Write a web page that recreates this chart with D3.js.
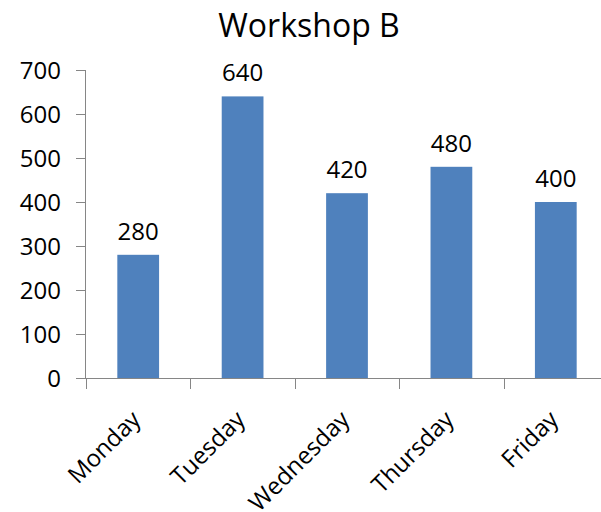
<!DOCTYPE html>
<html><head><meta charset="utf-8">
<script src="https://cdn.jsdelivr.net/npm/d3@7/dist/d3.min.js"></script>
<style>body{margin:0;background:#fff;} svg{display:block;} text{font-family:"Open Sans",sans-serif;fill:#000;}</style>
</head><body><svg id="c" width="601" height="512"></svg>
<script>
const title = "Workshop B";
const categories = ["Monday","Tuesday","Wednesday","Thursday","Friday"];
const values = [280, 640, 420, 480, 400];
const yTicks = [0,100,200,300,400,500,600,700];

const svg = d3.select("#c");
const mLeft = 86, mRight = 608, mTop = 70, mBottom = 378;
const x = d3.scaleBand().domain(categories).range([mLeft, mRight]).paddingInner(0.6).paddingOuter(0.3);
const y = d3.scaleLinear().domain([0,700]).range([mBottom, mTop]);
const axisColor = "#868686";

svg.append("text").attr("x", 309).attr("y", 37).attr("text-anchor","middle")
  .style("font-size","32px").text(title);

// y axis
const ya = svg.append("g").attr("transform",`translate(${mLeft},0)`)
  .call(d3.axisLeft(y).tickValues(yTicks).tickSize(10).tickPadding(15).tickFormat(d3.format("d")));
ya.select(".domain").attr("stroke",axisColor).attr("d",`M-0.5,${mTop}V${mBottom}`);
ya.selectAll(".tick line").attr("stroke",axisColor);
ya.selectAll(".tick text").style("font-size","24px").attr("dy","0.36em").attr("fill","#000");

// bars
svg.selectAll("rect.bar").data(values).join("rect").attr("class","bar")
  .attr("x",(d,i)=>x(categories[i])).attr("width",x.bandwidth())
  .attr("y",d=>y(d)).attr("height",d=>y(0)-y(d)).attr("fill","#4F81BD");

// data labels
svg.selectAll("text.lbl").data(values).join("text").attr("class","lbl")
  .attr("x",(d,i)=>x(categories[i])+x.bandwidth()/2).attr("y",d=>y(d)-15)
  .attr("text-anchor","middle").style("font-size","24px").text(d=>d);

// x axis
const xg = svg.append("g");
xg.append("line").attr("x1",mLeft).attr("x2",mRight).attr("y1",mBottom+0.5).attr("y2",mBottom+0.5).attr("stroke",axisColor);
const bounds = d3.range(categories.length+1).map(i=>mLeft + i*(mRight-mLeft)/categories.length);
xg.selectAll("line.t").data(bounds).join("line").attr("class","t")
  .attr("x1",d=>Math.round(d)+0.5).attr("x2",d=>Math.round(d)+0.5).attr("y1",mBottom).attr("y2",mBottom+11).attr("stroke",axisColor);
xg.selectAll("text.xl").data(categories).join("text").attr("class","xl")
  .attr("transform",d=>`translate(${x(d)+x.bandwidth()/2-8},${mBottom+31}) rotate(-45)`)
  .attr("text-anchor","end").attr("dy","0.7em").style("font-size","24px").text(d=>d);
</script></body></html>
